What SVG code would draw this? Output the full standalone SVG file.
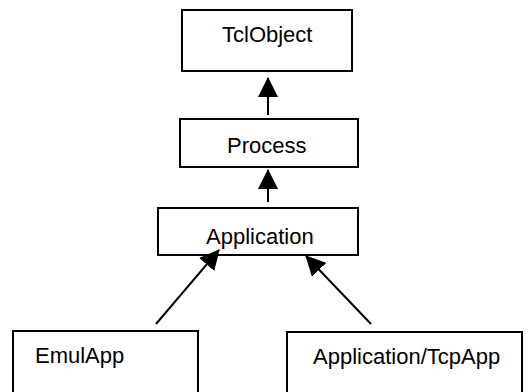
<svg xmlns="http://www.w3.org/2000/svg" width="528" height="392" viewBox="0 0 528 392">
<style>
.box{fill:#fff;stroke:#000;stroke-width:2}
.lbl{font-family:"Liberation Sans",Arial,sans-serif;font-size:22px;fill:#000}
.conn{stroke:#000;stroke-width:2;fill:none;marker-end:url(#ah)}
</style>
<defs>
<marker id="ah" markerUnits="userSpaceOnUse" markerWidth="20" markerHeight="20" refX="19" refY="10" orient="auto">
<path d="M0,0 L20,10 L0,20 z" fill="#000"/>
</marker>
</defs>
<rect width="528" height="392" fill="#fff"/>
<g id="TclObject"><rect class="box" x="182" y="10" width="170" height="61"/><text class="lbl" x="222" y="42">TclObject</text></g>
<g id="Process"><rect class="box" x="180" y="119" width="178" height="48"/><text class="lbl" x="227" y="153">Process</text></g>
<g id="Application"><rect class="box" x="158" y="208" width="200" height="47"/><text class="lbl" x="206" y="244">Application</text></g>
<g id="EmulApp"><rect class="box" x="13" y="331" width="185" height="80"/><text class="lbl" x="35" y="363">EmulApp</text></g>
<g id="TcpApp"><rect class="box" x="287" y="332" width="235" height="80"/><text class="lbl" x="313" y="364">Application/TcpApp</text></g>
<g id="connectors">
<path class="conn" d="M268,115 L268,78"/>
<path class="conn" d="M268,202 L268,170"/>
<path class="conn" d="M156,324 L219,250"/>
<path class="conn" d="M371,324 L306,256"/>
</g>
</svg>
